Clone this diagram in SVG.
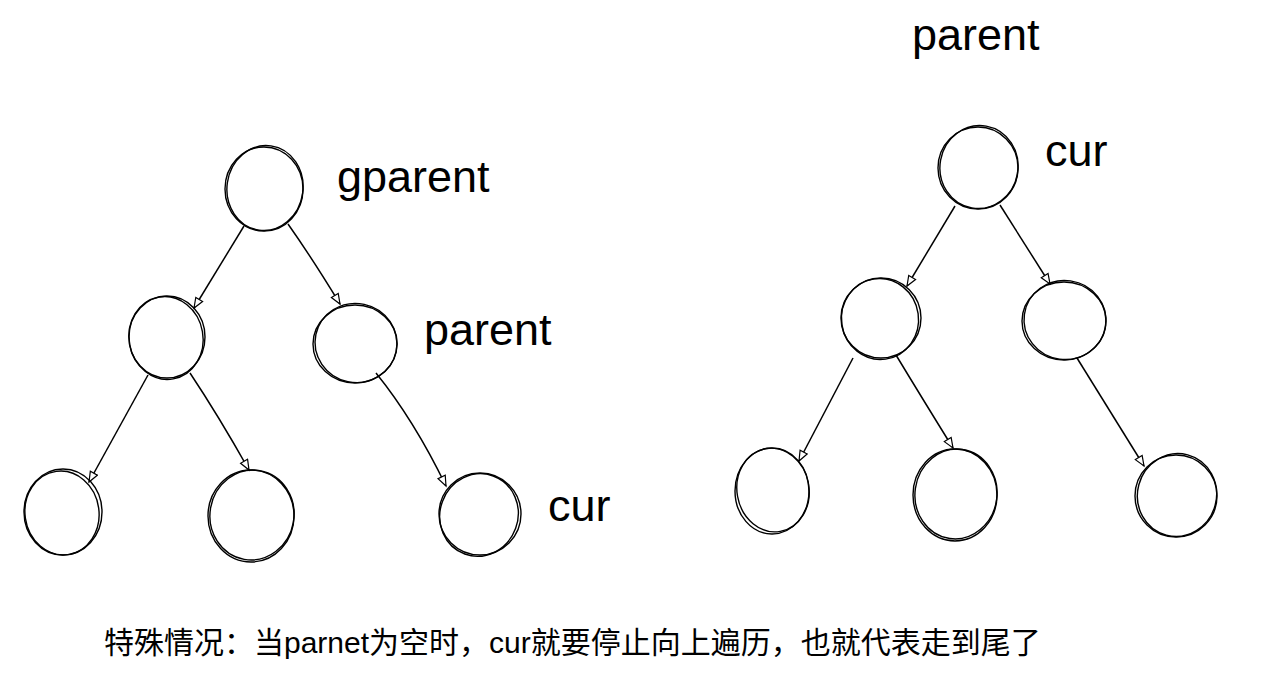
<svg xmlns="http://www.w3.org/2000/svg" width="1263" height="674" viewBox="0 0 1263 674">
<style>
.n ellipse{fill:none;stroke:#000;stroke-width:1.4}
.e path{fill:none;stroke:#000;stroke-width:1.5}
.t{font-family:"Liberation Sans",Arial,sans-serif;font-size:45px;fill:#000}
.c{font-family:"Liberation Sans","Noto Sans CJK SC",sans-serif;font-size:30px;fill:#000}
</style>
<defs>
<marker id="ah" markerUnits="userSpaceOnUse" markerWidth="13" markerHeight="11" refX="11" refY="5" orient="auto">
<path d="M1,1 L11,5 L1,9 Z" fill="#fff" stroke="#000" stroke-width="1.2"/>
</marker>
</defs>
<rect width="1263" height="674" fill="#fff"/>
<g id="connectors" class="e">
<path d="M244,226 L194,308" marker-end="url(#ah)"/>
<path d="M288,224 Q312,258 340,304" marker-end="url(#ah)"/>
<path d="M148,375 L89,482" marker-end="url(#ah)"/>
<path d="M190,373 Q218,415 249,470" marker-end="url(#ah)"/>
<path d="M376,373 Q414,420 446,486" marker-end="url(#ah)"/>
<path d="M955,206 L907,286" marker-end="url(#ah)"/>
<path d="M1000,205 L1050,284" marker-end="url(#ah)"/>
<path d="M853,358 L799,461" marker-end="url(#ah)"/>
<path d="M896,355 Q922,398 953,448" marker-end="url(#ah)"/>
<path d="M1077,358 Q1108,408 1144,466" marker-end="url(#ah)"/>
</g>
<g id="n-gparent" class="n"><ellipse cx="264" cy="189" rx="39" ry="42"/><ellipse cx="265" cy="188" rx="38" ry="42.5" transform="rotate(8 265 188)"/></g>
<g id="n-l1" class="n"><ellipse cx="167" cy="337" rx="38" ry="41"/><ellipse cx="166" cy="338" rx="37" ry="41.5" transform="rotate(-10 166 338)"/></g>
<g id="n-parent" class="n"><ellipse cx="355" cy="344" rx="42" ry="39"/><ellipse cx="356" cy="343" rx="41" ry="39.5" transform="rotate(12 356 343)"/></g>
<g id="n-l2a" class="n"><ellipse cx="63" cy="512" rx="39" ry="43"/><ellipse cx="62" cy="513" rx="37" ry="42" transform="rotate(-8 62 513)"/></g>
<g id="n-l2b" class="n"><ellipse cx="251" cy="516" rx="43" ry="46"/><ellipse cx="252" cy="515" rx="42" ry="45" transform="rotate(10 252 515)"/></g>
<g id="n-cur" class="n"><ellipse cx="480" cy="514" rx="41" ry="41"/><ellipse cx="479" cy="515" rx="39" ry="41.5" transform="rotate(20 479 515)"/></g>
<g id="n-rcur" class="n"><ellipse cx="978" cy="168" rx="40" ry="41"/><ellipse cx="979" cy="167" rx="39" ry="41.5" transform="rotate(10 979 167)"/></g>
<g id="n-r1" class="n"><ellipse cx="881" cy="318" rx="40" ry="40"/><ellipse cx="880" cy="319" rx="38.5" ry="40.5" transform="rotate(-8 880 319)"/></g>
<g id="n-r2" class="n"><ellipse cx="1064" cy="321" rx="42" ry="39"/><ellipse cx="1065" cy="320" rx="41" ry="39.5" transform="rotate(8 1065 320)"/></g>
<g id="n-r3" class="n"><ellipse cx="772" cy="491" rx="37" ry="43"/><ellipse cx="773" cy="490" rx="36" ry="42" transform="rotate(-10 773 490)"/></g>
<g id="n-r4" class="n"><ellipse cx="955" cy="495" rx="42" ry="46"/><ellipse cx="956" cy="494" rx="41" ry="45" transform="rotate(8 956 494)"/></g>
<g id="n-r5" class="n"><ellipse cx="1176" cy="496" rx="41" ry="41"/><ellipse cx="1177" cy="495" rx="39.5" ry="41.5" transform="rotate(15 1177 495)"/></g>
<g id="labels">
<text class="t" x="337" y="192">gparent</text>
<text class="t" x="424" y="345">parent</text>
<text class="t" x="548" y="521">cur</text>
<text class="t" x="912" y="50">parent</text>
<text class="t" x="1045" y="166">cur</text>
<text class="c" x="104" y="653">特殊情况：当parnet为空时，cur就要停止向上遍历，也就代表走到尾了</text>
</g>
</svg>
